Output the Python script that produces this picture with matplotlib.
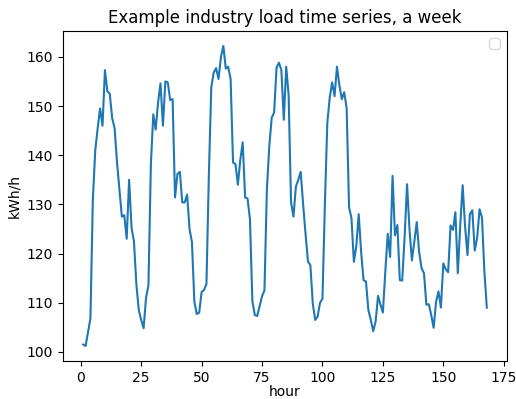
import matplotlib
matplotlib.use("Agg")
import matplotlib.pyplot as plt
import numpy as np

hours = list(range(1, 169))
load = [
    101.5, 101.2, 104.0, 106.8, 131.0, 141.0, 145.5, 149.5, 146.0, 157.3,
    153.0, 152.5, 147.5, 145.5, 138.5, 133.0, 127.5, 127.8, 123.0, 135.0,
    125.3, 122.5, 113.8, 108.5, 106.5, 104.8, 111.0, 113.5, 138.0, 148.3,
    145.2, 150.8, 154.6, 146.0, 155.0, 154.8, 151.2, 151.4, 131.4, 136.2,
    136.6, 130.4, 130.4, 132.0, 125.0, 122.3, 110.2, 107.7, 108.0, 112.2,
    112.6, 113.8, 136.0, 153.8, 156.8, 157.7, 155.5, 160.0, 162.2, 157.6,
    158.0, 155.5, 138.5, 138.2, 134.0, 139.0, 142.6, 131.4, 131.2, 127.0,
    110.3, 107.5, 107.3, 109.3, 111.3, 112.5, 133.0, 141.8, 147.6, 148.7,
    157.8, 158.8, 157.3, 147.2, 158.0, 152.2, 130.4, 127.5, 133.6, 135.0,
    136.6, 130.0, 124.0, 118.4, 117.6, 109.8, 106.5, 107.2, 110.0, 110.8,
    130.0, 146.5, 151.7, 154.8, 152.0, 158.0, 154.2, 151.4, 152.8, 149.6,
    129.4, 127.2, 118.3, 121.5, 128.0, 120.3, 114.6, 114.3, 108.5, 106.5,
    104.2, 106.2, 111.4, 109.6, 108.0, 116.3, 124.0, 119.3, 135.8, 123.7,
    125.8, 114.6, 114.5, 123.5, 134.1, 125.0, 118.6, 122.4, 126.4, 120.3,
    117.0, 116.0, 109.6, 109.7, 107.5, 104.9, 110.2, 112.3, 109.0, 118.0,
    116.8, 116.2, 125.7, 124.8, 128.4, 116.0, 125.7, 133.9, 125.5, 119.7,
    128.0, 128.8, 120.6, 123.2, 129.0, 127.3, 116.3, 109.0,
]

W, H = 516, 399
fig = plt.figure(figsize=(W / 100, H / 100), dpi=100)
ax = fig.add_axes([63 / W, (H - 361) / H, (507 - 63) / W, (361 - 31) / H])
ax.plot(hours, load, color="#1f77b4", linewidth=1.5)
ax.set_title("Example industry load time series, a week")
ax.set_xlabel("hour", labelpad=0)
ax.set_ylabel("kWh/h")
ax.legend(handles=[], loc="upper right")
fig.savefig("out.png", dpi=100)
